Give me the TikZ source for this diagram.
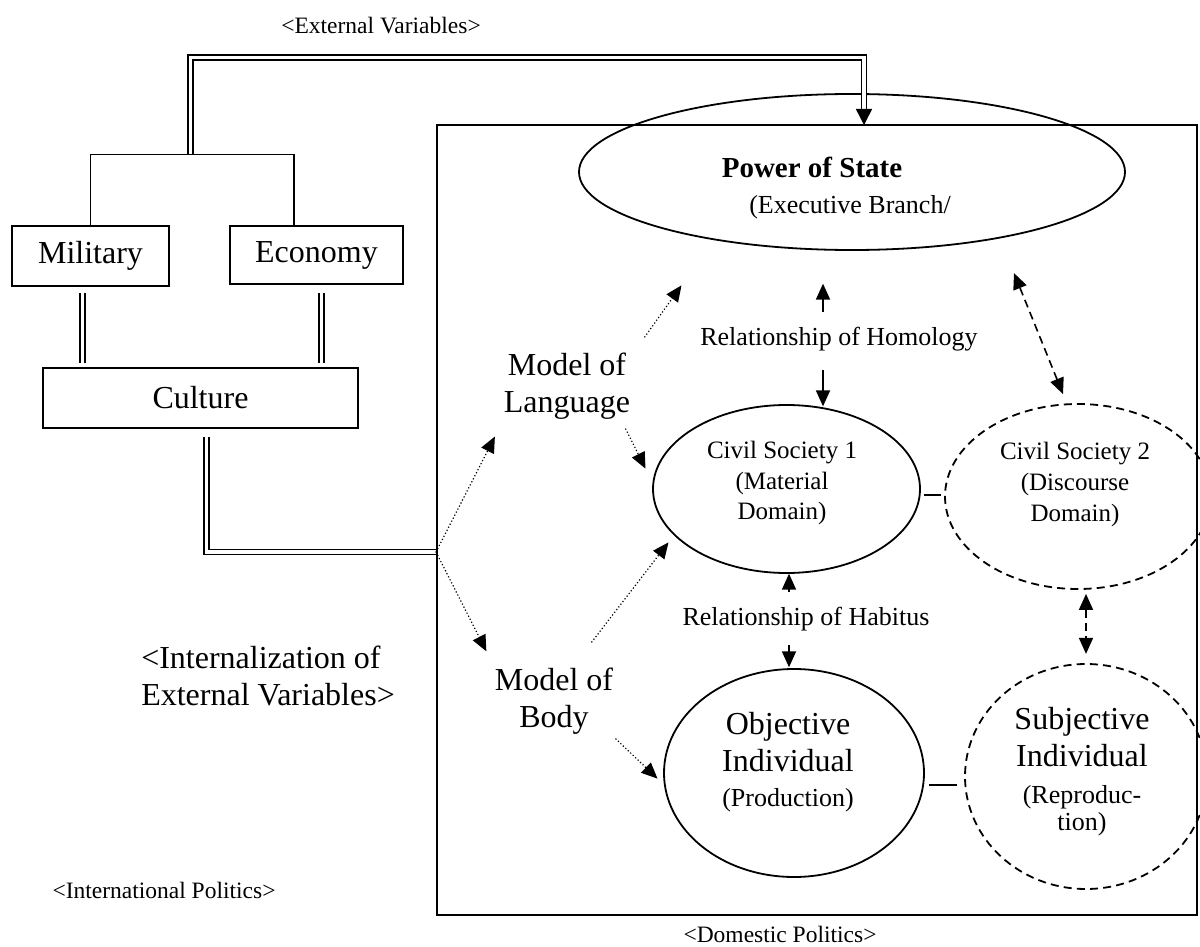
\documentclass[tikz,border=0pt]{standalone}
\usepackage{fontspec}
\setmainfont{Liberation Serif}
\usetikzlibrary{shapes.geometric,arrows.meta}

\newcommand{\bigtxt}{\fontsize{16}{18.5}\selectfont}
\newcommand{\midtxt}{\fontsize{13}{15}\selectfont}
\newcommand{\civtxt}{\fontsize{12.5}{15.25}\selectfont}
\newcommand{\smalltxt}{\fontsize{11.75}{14}\selectfont}

\tikzset{
  box/.style={draw, line width=0.9pt, rectangle, inner sep=0pt, font=\bigtxt},
  oval/.style={draw, line width=0.9pt, ellipse, inner sep=0pt},
  dashoval/.style={oval, dash pattern=on 4pt off 2.6pt},
  dbl/.style={double, double distance=1.8pt, line width=0.75pt},
  arr/.style={-{Triangle[length=8pt,width=7pt]}, line width=0.9pt},
  dotarr/.style={-{Triangle[length=8pt,width=7pt]}, line width=0.6pt, dash pattern=on 0.6pt off 1.1pt},
  dasharr/.style={{Triangle[length=8pt,width=7pt]}-{Triangle[length=8pt,width=7pt]}, line width=0.8pt, dash pattern=on 4pt off 2.5pt},
  txt/.style={inner sep=0pt, align=center}
}

\begin{document}
\begin{tikzpicture}[line cap=butt, line join=miter, x=0.5pt, y=-0.5pt]
  \useasboundingbox (0,0) rectangle (1200,947);
  \clip (0,0) rectangle (1200,947);

  % outer labels
  \node[txt, font=\smalltxt] (extv) at (381,26) {<External Variables>};
  \node[txt, font=\smalltxt] (intl) at (164,890) {<International Politics>};
  \node[txt, font=\smalltxt] (domp) at (780,934) {<Domestic Politics>};
  \node[txt, align=left, font=\bigtxt] (intern) at (268,676) {<Internalization of\\External Variables>};

  % external variables
  \node[box, minimum width=78.5pt, minimum height=30pt] (mil) at (90.5,256) {Military};
  \node[box, minimum width=86.5pt, minimum height=29pt] (eco) at (316.5,255) {Economy};
  \node[box, minimum width=157.5pt, minimum height=30pt] (cul) at (200.5,398) {Culture};

  % domestic frame
  \coordinate (domNW) at (437,125);
  \coordinate (domSE) at (1197,915);
  \draw[line width=0.9pt] (domNW) rectangle (domSE);

  % ovals
  \node[oval, minimum width=273pt, minimum height=78pt] (state) at (852,172) {};
  \node[txt, font=\fontsize{14.5}{17}\selectfont\bfseries] (stT) at (812,167) {Power of State};
  \node[txt, font=\midtxt] (stS) at (850,207) {(Executive Branch/};

  \node[oval, minimum width=133.5pt, minimum height=84pt] (civ1) at (786.5,489) {};
  \node[txt, font=\civtxt] (civ1t) at (782,483) {Civil Society 1\\(Material\\Domain)};
  \node[dashoval, minimum width=133pt, minimum height=92.5pt] (civ2) at (1078,496.5) {};
  \node[txt, font=\fontsize{12.5}{15.5}\selectfont] (civ2t) at (1075,484) {Civil Society 2\\(Discourse\\Domain)};
  \node[oval, minimum width=130pt, minimum height=104pt] (obj) at (794,773) {};
  \node[txt, font=\bigtxt] (objt) at (788,762) {Objective\\Individual\\[-1pt]{\midtxt(Production)}};
  \node[dashoval, minimum width=121pt, minimum height=112.5pt] (subj) at (1086,776.5) {};
  \node[txt, font=\bigtxt] (subjt) at (1082,772) {Subjective\\Individual\\{\midtxt(Reproduc-}\\[-5pt]{\midtxt tion)}};

  % models
  \node[txt, font=\bigtxt] (lang) at (567,386) {Model of\\Language};
  \node[txt, font=\bigtxt] (body) at (554,701) {Model of\\Body};
  \node[txt, font=\midtxt] (homol) at (839,339) {Relationship of Homology};
  \node[txt, font=\midtxt] (habit) at (806,619) {Relationship of Habitus};

  % external connectors
  \coordinate (brk) at (190.5,154.5);
  \coordinate (ecoTop) at ([xshift=-11.25pt]eco.north);
  \coordinate (stIn) at (864,125);
  \draw[line width=0.9pt] (mil.north) |- (brk) -| (ecoTop);
  \draw[dbl, -{Triangle[length=8pt,width=8pt]}] (brk) -- ++(0,-97) -| (stIn);
  \coordinate (milBot) at ([xshift=-4pt]mil.south);
  \coordinate (ecoBot) at ([xshift=2.5pt]eco.south);
  \draw[dbl, shorten <=3pt, shorten >=2pt] (milBot) -- (milBot |- cul.north);
  \draw[dbl, shorten <=4pt, shorten >=2pt] (ecoBot) -- (ecoBot |- cul.north);
  \coordinate (culBot) at ([xshift=3pt,yshift=-4pt]cul.south);
  \coordinate (fork) at (436,552);
  \draw[dbl] (culBot) |- (fork);

  % dotted model arrows
  \draw[dotarr, shorten >=9.5pt] (fork) -- (lang.south west);
  \draw[dotarr, shorten >=9pt] (fork) -- (body.north west);
  \draw[dotarr] ([shift={(14,-15)}]lang.north east) -- ++(37,-52);
  \draw[dotarr] ([shift={(-5,9)}]lang.south east) -- ++(20,40);
  \draw[dotarr] ([shift={(-22,-25)}]body.north east) -- ++(77,-100);
  \draw[dotarr] ([shift={(2,4)}]body.south east) -- ++(42,40);

  % relationships
  \draw[arr] ([xshift=-8pt,yshift=7.5pt]homol.north) -- ++(0,-28);
  \draw[arr] ([xshift=-8pt,yshift=-9.5pt]homol.south) -- ++(0,36);
  \draw[arr] ([xshift=-8.5pt,yshift=7.5pt]habit.north) -- ++(0,-18);
  \draw[arr] ([xshift=-8.5pt,yshift=-7pt]habit.south) -- ++(0,22);
  \draw[dasharr] ([shift={(-15,-9)}]civ2.north) -- ++(-49,-121);
  \draw[dasharr] ([xshift=4pt,yshift=-2pt]civ2.south) -- ++(0,60);
  \draw[line width=0.9pt] ([shift={(3,6)}]civ1.east) -- ++(17,0);
  \draw[line width=0.9pt] ([shift={(4,12)}]obj.east) -- ++(28,0);
\end{tikzpicture}
\end{document}
